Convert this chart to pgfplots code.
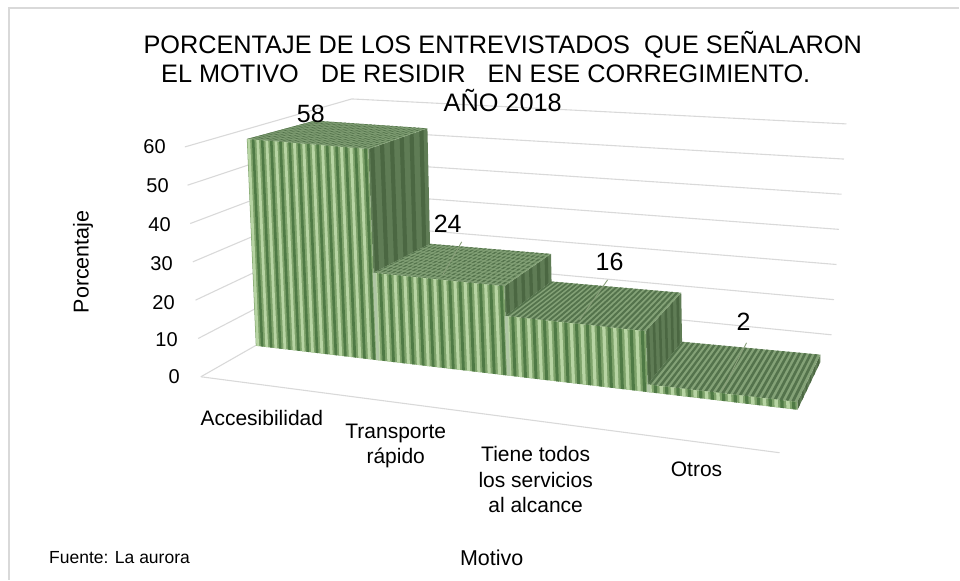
\documentclass[border=0pt]{standalone}
\usepackage{fontspec}
\setmainfont{Liberation Sans}
\usepackage{pgfplots}
\usepackage{pgfplotstable}
\pgfplotsset{compat=1.18}

\definecolor{paleG}{HTML}{B7D4A3}
\definecolor{midG}{HTML}{7EA36B}
\definecolor{darkG}{HTML}{4F7A45}
\definecolor{seamG}{HTML}{AFC6A4}
\definecolor{topA}{HTML}{84A277}
\definecolor{topB}{HTML}{54734C}
\definecolor{sideA}{HTML}{5F7C55}
\definecolor{sideB}{HTML}{4B6742}
\definecolor{gridG}{HTML}{D9D9D9}
\definecolor{inkG}{HTML}{404040}

% Share of respondents per reason
\pgfplotstableread{
idx value
0 58
1 24
2 16
3 2
}\motivos

% Trilinear blend of the eight corners of a block; weights in \ct, \cd, \cf
\newcommand\cube[8]{%
  \pgfmathsetmacro\res{(1-\cf)*((1-\cd)*((1-\ct)*#1+\ct*#2)+\cd*((1-\ct)*#3+\ct*#4))
    +\cf*((1-\cd)*((1-\ct)*#5+\ct*#6)+\cd*((1-\ct)*#7+\ct*#8))}}

% Scene position of a bar point: category X in 0..4, depth Y in 0..1, percentage Z
\newcommand\barpt[3]{%
  \pgfmathsetmacro\ct{#1/4*(1+0.035*(#1-4))}%
  \def\cd{#2}%
  \pgfmathsetmacro\cf{#3/60}%
  \cube{256}{798}{320}{821}{246.7}{790}{315}{818}\let\ptx\res
  \cube{346}{410}{315}{362}{132}{176}{114}{148}\let\pty\res}

% Same for the floor and walls: X and Y in 0..1, percentage Z
\newcommand\roompt[3]{%
  \def\ct{#1}\def\cd{#2}%
  \pgfmathsetmacro\cf{#3/60}%
  \cube{201}{780}{357}{832}{185}{770}{352}{847}\let\ptx\res
  \cube{377}{453}{288}{335}{147}{220}{99}{124}\let\pty\res}

% Filled quadrilateral from four block points "X,Y,Z;"
\def\appendpt#1,#2,#3;{\barpt{#1}{#2}{#3}\edef\plist{\plist (\ptx,\pty)}}
\newcommand\barquad[5]{%
  \def\plist{}%
  \appendpt#2;\appendpt#3;\appendpt#4;\appendpt#5;%
  \edef\tmp{\noexpand\addplot[#1,draw=none] coordinates {\plist} --cycle;}\tmp}

\begin{document}
\begin{tikzpicture}[x=1pt,y=1pt]
\path (0,0) rectangle (960,580);
\begin{axis}[
  at={(0,0)},anchor=south west,
  scale only axis,width=960pt,height=580pt,
  xmin=0,xmax=960,ymin=0,ymax=580,y dir=reverse,
  hide axis,clip=false,
  every node/.append style={text=inkG},
]
% chart frame
\addplot[gridG,line width=1.2pt] coordinates {(9,580) (9,8) (960,8)};

% grid on the side wall and the back wall
\foreach \z in {0,10,...,60}{%
  \roompt{0}{0}{\z}\edef\ax{\ptx}\edef\ay{\pty}%
  \roompt{0}{1}{\z}\edef\bx{\ptx}\edef\by{\pty}%
  \roompt{1}{1}{\z}\edef\cx{\ptx}\edef\cy{\pty}%
  \edef\tmp{\noexpand\addplot[gridG,line width=1.1pt] coordinates {(\ax,\ay) (\bx,\by) (\cx,\cy)};}\tmp
}
% front edge of the floor
\roompt{0}{0}{0}\edef\ax{\ptx}\edef\ay{\pty}%
\roompt{1}{0}{0}\edef\bx{\ptx}\edef\by{\pty}%
\edef\tmp{\noexpand\addplot[gridG,line width=1.1pt] coordinates {(\ax,\ay) (\bx,\by)};}\tmp

% bars, from left to right
\foreach \i in {0,1,2,3}{%
  \pgfplotstablegetelem{\i}{value}\of\motivos
  \edef\h{\pgfplotsretval}%
  \ifnum\i<3
    \pgfmathtruncatemacro\nx{\i+1}%
    \pgfplotstablegetelem{\nx}{value}\of\motivos
    \edef\hn{\pgfplotsretval}%
  \else
    \def\hn{0}%
  \fi
  \pgfmathsetmacro\xa{\i}%
  \pgfmathsetmacro\xb{\i+1}%
  % right-hand side
  \barquad{fill=sideA}{\xb,0,\hn}{\xb,1,\hn}{\xb,1,\h}{\xb,0,\h}%
  \foreach \k in {0,...,5}{%
    \pgfmathsetmacro\ya{\k/6+0.03}%
    \pgfmathsetmacro\yb{\k/6+0.10}%
    \barquad{fill=sideB}{\xb,\ya,\hn}{\xb,\yb,\hn}{\xb,\yb,\h}{\xb,\ya,\h}%
  }%
  % top
  \barquad{fill=topA}{\xa,0,\h}{\xb,0,\h}{\xb,1,\h}{\xa,1,\h}%
  \foreach \k in {0,...,25}{%
    \pgfmathsetmacro\sa{\i+\k/26}%
    \pgfmathsetmacro\sb{\i+(\k+0.5)/26}%
    \barquad{fill=topB}{\sa,0,\h}{\sb,0,\h}{\sb,1,\h}{\sa,1,\h}%
  }%
  % the tallest tops carry a woven texture
  \ifnum\i<2
    \foreach \k in {0,...,9}{%
      \pgfmathsetmacro\ya{\k/10+0.02}%
      \pgfmathsetmacro\yb{\k/10+0.06}%
      \barquad{fill=topA,fill opacity=0.7}{\xa,\ya,\h}{\xb,\ya,\h}{\xb,\yb,\h}{\xa,\yb,\h}%
    }%
  \fi
  % front
  \barquad{fill=midG}{\xa,0,0}{\xb,0,0}{\xb,0,\h}{\xa,0,\h}%
  \foreach \k in {0,...,12}{%
    \pgfmathsetmacro\sa{\i+(\k+0.06)/13}%
    \pgfmathsetmacro\sb{\i+(\k+0.36)/13}%
    \pgfmathsetmacro\sc{\i+(\k+0.56)/13}%
    \pgfmathsetmacro\sd{\i+(\k+0.84)/13}%
    \barquad{fill=paleG}{\sa,0,0}{\sb,0,0}{\sb,0,\h}{\sa,0,\h}%
    \barquad{fill=darkG}{\sc,0,0}{\sd,0,0}{\sd,0,\h}{\sc,0,\h}%
  }%
  % pale seam where two bars meet
  \ifnum\i>0
    \pgfmathsetmacro\sa{\i-0.006}%
    \pgfmathsetmacro\sb{\i+0.018}%
    \barquad{fill=seamG}{\sa,0,0}{\sb,0,0}{\sb,0,\h}{\sa,0,\h}%
  \fi
}

% leader lines from the value labels
\addplot[black!25!paleG,line width=0.9pt] coordinates {(443,275) (462,242)};
\addplot[black!25!paleG,line width=0.9pt] coordinates {(580,320) (608,280)};
\addplot[black!25!paleG,line width=0.9pt] coordinates {(723,390) (747,343)};

% value labels, read from the table
\foreach \i/\lx/\ly in {0/311/114,1/448/224,2/610/262,3/744/322}{%
  \pgfplotstablegetelem{\i}{value}\of\motivos
  \edef\tmp{\noexpand\node[font=\noexpand\fontsize{25}{25}\noexpand\selectfont] at (axis cs:\lx,\ly) {\pgfplotsretval};}\tmp
}

% percentage scale
\foreach \lab/\rx/\ly in {60/166/147,50/169/186,40/171/225,30/173/264,20/175/303,10/178/340,0/180/377}{%
  \edef\tmp{\noexpand\node[anchor=east,inner sep=0pt,font=\noexpand\fontsize{20}{20}\noexpand\selectfont] at (axis cs:\rx,\ly) {\lab};}\tmp
}

% categories
\node[align=center,font=\fontsize{21}{25.5}\selectfont] at (axis cs:262,418) {Accesibilidad};
\node[align=center,font=\fontsize{21}{25.5}\selectfont] at (axis cs:396,446) {Transporte\\rápido};
\node[align=center,font=\fontsize{21}{25.5}\selectfont] at (axis cs:536,480) {Tiene todos\\los servicios\\al alcance};
\node[align=center,font=\fontsize{21}{25.5}\selectfont] at (axis cs:697,470) {Otros};

% titles and notes
\node[align=center,font=\fontsize{25.3}{29}\selectfont] at (axis cs:503,72)
  {PORCENTAJE DE LOS ENTREVISTADOS\hspace{7pt} QUE SEÑALARON\\EL MOTIVO\hspace{15pt} DE RESIDIR\hspace{15pt} EN ESE CORREGIMIENTO.\hspace*{34pt}\mbox{}\\AÑO 2018};
\node[rotate=90,font=\fontsize{21.5}{21.5}\selectfont] at (axis cs:83,262) {Porcentaje};
\node[font=\fontsize{21.5}{21.5}\selectfont] at (axis cs:492,558) {Motivo};
\node[anchor=west,inner sep=0pt,font=\fontsize{17.5}{17.5}\selectfont] at (axis cs:49,558) {Fuente: La aurora};
\end{axis}
\end{tikzpicture}
\end{document}
